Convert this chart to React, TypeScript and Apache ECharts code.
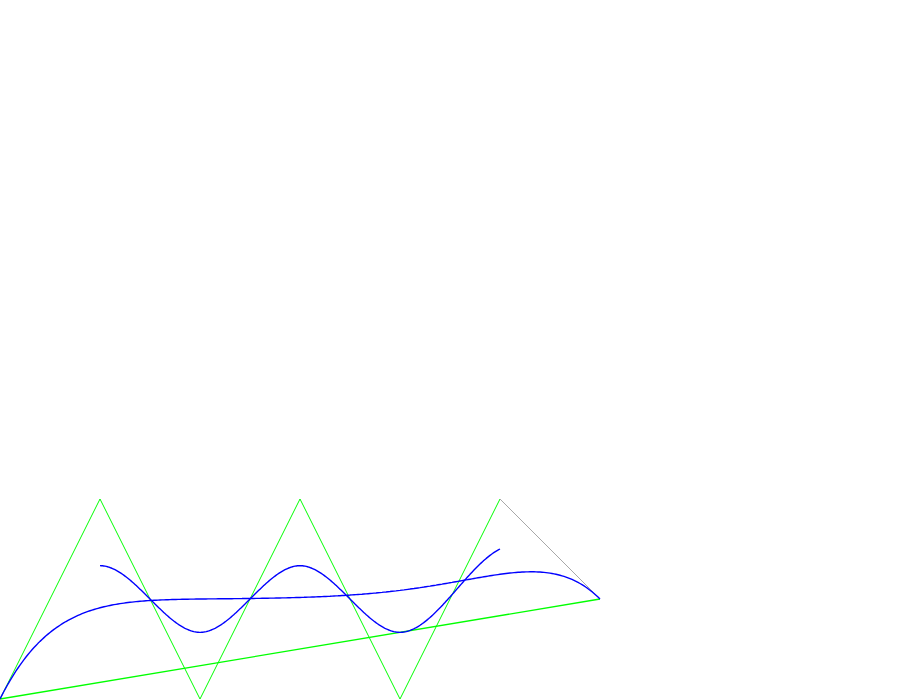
import React, { useEffect, useRef } from "react";
import * as echarts from "echarts";

// Control points of the curve (x to the right, y upward from the bottom edge)
const ctrlX = [0, 100, 200, 300, 400, 500, 600];
const ctrlY = [0, 200, 0, 200, 0, 200, 100];

const SAMPLES = 300;

// Degree-n Bezier curve defined by the control points (de Casteljau)
function bezierCurve(xs: number[], ys: number[]): number[][] {
  const out: number[][] = [];
  for (let i = 0; i <= SAMPLES; i++) {
    const t = i / SAMPLES;
    const px = xs.slice();
    const py = ys.slice();
    for (let k = px.length - 1; k > 0; k--) {
      for (let j = 0; j < k; j++) {
        px[j] = px[j] * (1 - t) + px[j + 1] * t;
        py[j] = py[j] * (1 - t) + py[j + 1] * t;
      }
    }
    out.push([px[0], py[0]]);
  }
  return out;
}

// Uniform cubic B-spline defined by the same control points
function bSpline(xs: number[], ys: number[]): number[][] {
  const out: number[][] = [];
  const segs = xs.length - 3;
  const per = 80;
  for (let s = 0; s < segs; s++) {
    for (let i = 0; i <= per; i++) {
      if (s > 0 && i === 0) continue;
      const t = i / per;
      const b0 = (1 - t) ** 3 / 6;
      const b1 = (3 * t ** 3 - 6 * t ** 2 + 4) / 6;
      const b2 = (-3 * t ** 3 + 3 * t ** 2 + 3 * t + 1) / 6;
      const b3 = t ** 3 / 6;
      out.push([
        b0 * xs[s] + b1 * xs[s + 1] + b2 * xs[s + 2] + b3 * xs[s + 3],
        b0 * ys[s] + b1 * ys[s + 1] + b2 * ys[s + 2] + b3 * ys[s + 3],
      ]);
    }
  }
  return out;
}

export default function App() {
  const ref = useRef<HTMLDivElement>(null);
  useEffect(() => {
    if (!ref.current) return;
    const chart = echarts.init(ref.current, null, { renderer: "svg" });
    const n = ctrlX.length;
    const polyGreen = ctrlX.slice(0, n - 1).map((x, i) => [x, ctrlY[i]]);
    const polyGray = [
      [ctrlX[n - 2], ctrlY[n - 2]],
      [ctrlX[n - 1], ctrlY[n - 1]],
    ];
    const closing = [
      [ctrlX[n - 1], ctrlY[n - 1]],
      [ctrlX[0], ctrlY[0]],
    ];
    const common = {
      type: "line" as const,
      showSymbol: false,
      symbol: "none",
      clip: false,
      silent: true,
    };
    chart.setOption({
      animation: false,
      backgroundColor: "#ffffff",
      grid: { left: 0, top: 0, width: 600, height: 699 },
      xAxis: { type: "value", min: 0, max: 600, show: false },
      yAxis: { type: "value", min: 0, max: 699, show: false },
      series: [
        { ...common, data: polyGreen, lineStyle: { color: "#00ff00", width: 1 } },
        { ...common, data: polyGray, lineStyle: { color: "#a8a8a8", width: 1 } },
        { ...common, data: closing, lineStyle: { color: "#00ff00", width: 1.3 } },
        { ...common, data: bSpline(ctrlX, ctrlY), lineStyle: { color: "#0000ff", width: 1.4 } },
        { ...common, data: bezierCurve(ctrlX, ctrlY), lineStyle: { color: "#0000ff", width: 1.4 } },
      ],
    });
    return () => chart.dispose();
  }, []);
  return (
    <div
      ref={ref}
      style={{ position: "absolute", left: 0, top: 0, width: 900, height: 700, background: "#fff" }}
    />
  );
}
